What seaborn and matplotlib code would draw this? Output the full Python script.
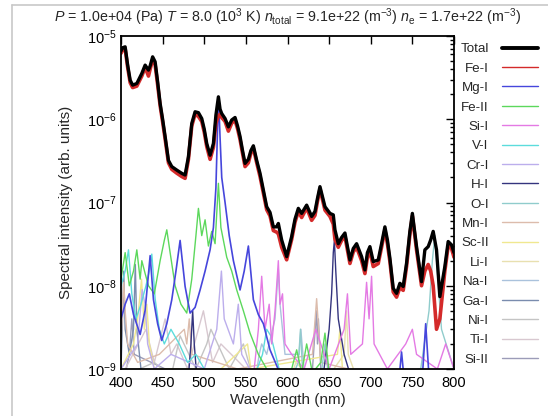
import matplotlib
matplotlib.use("Agg")
import matplotlib.pyplot as plt
from matplotlib.lines import Line2D
from matplotlib.ticker import LogLocator, NullFormatter
import seaborn as sns

# ---- total and per-species spectra (wavelength in nm, intensity in arb. units) ----
wl_total = [400, 402, 405, 408, 411, 414, 419, 425, 429, 433, 435, 438, 441, 444, 447,
            450, 453, 457, 461, 467, 473, 477, 481, 485, 489, 493, 497, 500, 503, 507,
            511, 514, 517, 519, 521, 525, 529, 533, 537, 540, 543, 546, 549, 553, 556,
            559, 563, 567, 571, 575, 579, 583, 587, 589, 593, 599, 605, 609, 613, 617,
            623, 629, 633, 636, 639, 645, 651, 655, 657, 661, 665, 669, 675, 679, 683,
            689, 693, 696, 699, 703, 709, 713, 717, 720, 723, 727, 731, 735, 739, 743,
            747, 750, 755, 761, 765, 769, 772, 775, 779, 783, 789, 793, 797, 800]
total = [6.6e-6, 7.24e-6, 7.41e-6, 4.47e-6, 2.95e-6, 2.57e-6, 2.69e-6, 3.55e-6, 4.47e-6, 3.89e-6,
         4.37e-6, 5.62e-6, 4.9e-6, 2.82e-6, 1.55e-6, 1.0e-6, 6.2e-7, 3.2e-7, 2.7e-7, 2.45e-7,
         2.24e-7, 2.14e-7, 3.55e-7, 8.9e-7, 1.23e-6, 1.2e-6, 1.02e-6, 7.6e-7, 5.1e-7, 3.7e-7,
         5.1e-7, 1.12e-6, 1.86e-6, 1.32e-6, 1.17e-6, 1.02e-6, 8.1e-7, 9.8e-7, 1.05e-6, 8.3e-7,
         6.2e-7, 4.2e-7, 2.95e-7, 3.3e-7, 4.2e-7, 4.8e-7, 3.2e-7, 2.24e-7, 1.41e-7, 8.9e-8,
         7.6e-8, 5.1e-8, 5.1e-8, 5.6e-8, 3.55e-8, 2.24e-8, 3.9e-8, 6.3e-8, 8.5e-8, 7.4e-8,
         9.3e-8, 6.8e-8, 7.8e-8, 1.12e-7, 1.55e-7, 8.9e-8, 7.4e-8, 7.1e-8, 4.7e-8, 3.2e-8,
         3.8e-8, 4.3e-8, 2.04e-8, 2.8e-8, 3.2e-8, 2.24e-8, 1.55e-8, 2.5e-8, 2.95e-8, 1.95e-8,
         2.04e-8, 3.2e-8, 5.1e-8, 3.55e-8, 2.14e-8, 9.3e-9, 8.1e-9, 1.07e-8, 9.8e-9, 1.86e-8,
         4.5e-8, 7.4e-8, 2.95e-8, 1.12e-8, 2.7e-8, 2.95e-8, 3.55e-8, 4.5e-8, 2.7e-8, 7.4e-9,
         1.7e-8, 3.4e-8, 3.1e-8, 2.5e-8]
fe1 = [6.2e-6, 6.8e-6, 7.0e-6, 4.2e-6, 2.75e-6, 2.4e-6, 2.5e-6, 3.3e-6, 4.2e-6, 3.3e-6,
       4.0e-6, 5.2e-6, 4.5e-6, 2.6e-6, 1.45e-6, 9.3e-7, 5.8e-7, 3.0e-7, 2.5e-7, 2.25e-7,
       2.05e-7, 1.95e-7, 3.3e-7, 8.3e-7, 1.15e-6, 1.08e-6, 9.4e-7, 7.0e-7, 4.7e-7, 3.3e-7,
       4.6e-7, 9.0e-7, 1.1e-6, 1.15e-6, 1.05e-6, 9.4e-7, 7.2e-7, 9.0e-7, 9.7e-7, 7.7e-7,
       5.7e-7, 3.9e-7, 2.7e-7, 3.0e-7, 3.9e-7, 4.5e-7, 3.0e-7, 2.05e-7, 1.3e-7, 8.2e-8,
       6.9e-8, 4.6e-8, 4.4e-8, 4.2e-8, 2.9e-8, 2.05e-8, 3.6e-8, 5.8e-8, 7.8e-8, 6.6e-8,
       8.6e-8, 6.1e-8, 7.0e-8, 1.03e-7, 1.45e-7, 8.1e-8, 6.8e-8, 5.5e-8, 3.6e-8, 2.9e-8,
       3.5e-8, 3.9e-8, 1.85e-8, 2.55e-8, 2.9e-8, 2.0e-8, 1.4e-8, 2.2e-8, 2.6e-8, 1.7e-8,
       1.85e-8, 2.9e-8, 4.7e-8, 3.2e-8, 1.95e-8, 8.4e-9, 7.3e-9, 9.5e-9, 8.8e-9, 1.7e-8,
       4.1e-8, 6.9e-8, 2.7e-8, 1.0e-8, 1.5e-8, 1.8e-8, 1.5e-8, 1.0e-8, 3.0e-9, 4.0e-9,
       1.5e-8, 3.0e-8, 2.8e-8, 2.2e-8]

wl_mg1 = [400, 405, 410, 415, 423, 429, 435, 439, 444, 449, 455, 461, 466, 471, 477, 483,
          489, 495, 501, 507, 511, 514, 516, 517, 518, 519, 521, 525, 530, 535, 543, 548,
          553, 559, 565, 571, 579, 587, 595, 700, 733, 737, 741, 762, 766, 770, 800]
mg1 = [4e-9, 6e-9, 8e-9, 4.5e-9, 2.6e-9, 5.1e-9, 2.3e-8, 6.8e-9, 3.5e-9, 2.2e-9, 3.5e-9,
       6.8e-9, 1.5e-8, 3.5e-8, 9.8e-9, 4.7e-9, 5.5e-9, 8.9e-9, 1.5e-8, 2.7e-8, 5e-8, 1.5e-7,
       8e-7, 1.5e-6, 1.1e-6, 6e-7, 2e-7, 1e-7, 4e-8, 2e-8, 8.9e-9, 1.5e-8, 3e-8, 6.8e-9,
       4.5e-9, 3.5e-9, 1.7e-9, 1.1e-9, 7e-10, 5e-10, 6e-10, 1.6e-9, 6e-10, 8e-10, 3.5e-9,
       8e-10, 5e-10]

wl_fe2 = [400, 405, 410, 415, 419, 423, 425, 429, 433, 440, 447, 452, 455, 459, 465, 472,
          479, 485, 490, 493, 497, 501, 505, 509, 513, 517, 520, 527, 533, 539, 547, 555,
          565, 575, 590, 605, 611, 617, 623, 630, 640, 645, 650, 680, 800]
fe2 = [1.2e-8, 2.5e-8, 1.0e-8, 1.5e-8, 2.7e-8, 1.2e-8, 2.0e-8, 1.4e-8, 1.0e-8, 8e-9, 2e-8,
       3.5e-8, 4.7e-8, 2.5e-8, 1.0e-8, 6e-9, 4.7e-9, 1.2e-8, 4e-8, 8.5e-8, 4e-8, 6.2e-8,
       3e-8, 4.5e-8, 3.2e-8, 1.7e-7, 5e-8, 2.2e-8, 1.5e-8, 8.9e-9, 5e-9, 2.7e-9, 1.5e-9,
       1e-9, 8e-10, 1e-9, 1.7e-9, 9e-10, 2.0e-9, 9e-10, 1.2e-9, 2.7e-9, 9e-10, 6e-10, 5e-10]

wl_si1 = [400, 550, 560, 565, 569, 573, 578, 581, 585, 589, 591, 594, 597, 605, 620, 634,
          650, 668, 672, 676, 690, 695, 698, 701, 704, 720, 742, 750, 755, 780, 790, 800]
si1 = [5e-10, 6e-10, 1e-9, 3e-9, 1.3e-8, 3e-9, 6e-9, 2e-9, 5e-9, 2e-8, 6e-9, 8e-9, 2e-9,
       1.5e-9, 1e-9, 3e-9, 1e-9, 3e-9, 8e-9, 1.5e-9, 2e-9, 1.1e-8, 4e-9, 1.3e-8, 2e-9, 1e-9,
       2e-9, 3e-9, 1.5e-9, 1e-9, 2e-9, 1e-9]

wl_v1 = [400, 405, 409, 413, 418, 424, 430, 434, 437, 441, 446, 452, 460, 470, 480, 490,
         500, 510, 560, 570, 575, 580, 590, 800]
v1 = [1e-8, 1.5e-8, 2.7e-8, 8e-9, 4e-9, 6e-9, 1e-8, 1.5e-8, 2.4e-8, 7e-9, 3e-9, 2e-9, 3e-9,
      2e-9, 1.2e-9, 1.5e-9, 1e-9, 8e-10, 8e-10, 1.5e-9, 3e-9, 2.5e-9, 1e-9, 5e-10]

wl_cr1 = [400, 420, 425.4, 427.5, 429, 432, 440, 460, 500, 515, 520.6, 524, 535, 540.9,
          545, 560, 800]
cr1 = [1e-9, 2e-9, 9e-9, 7e-9, 6e-9, 2e-9, 1e-9, 1.5e-9, 1e-9, 3e-9, 1.5e-8, 4e-9, 2e-9,
       6e-9, 1.5e-9, 8e-10, 5e-10]

wl_h1 = [400, 480, 484, 486.1, 488, 492, 640, 650, 653, 655, 656.3, 658, 661, 668, 680, 800]
h1 = [5e-10, 6e-10, 2e-9, 5e-9, 2e-9, 6e-10, 5e-10, 3e-9, 8e-9, 2.5e-8, 3.5e-8, 1.5e-8,
      4e-9, 1.5e-9, 6e-10, 5e-10]

wl_o1 = [400, 600, 613, 615.6, 618, 640, 645, 650, 760, 770, 774, 777, 780, 785, 800]
o1 = [5e-10, 6e-10, 1.2e-9, 3e-9, 1e-9, 8e-10, 2e-9, 7e-10, 1e-9, 5e-9, 2e-8, 4e-8, 1.5e-8,
      3e-9, 1e-9]

wl_mn1 = [400, 402, 403.3, 405, 408, 420, 446, 476, 479, 482, 485, 540, 630, 635, 640, 800]
mn1 = [2e-9, 6e-9, 1.1e-8, 5e-9, 2e-9, 1.2e-9, 1.5e-9, 3e-9, 2e-9, 4e-9, 1.5e-9, 1e-9,
       1.5e-9, 7e-9, 1.2e-9, 5e-10]

wl_sc2 = [400, 415, 420, 424.7, 428, 431, 434, 440, 520, 552, 556, 660, 663, 666, 800]
sc2 = [1e-9, 2e-9, 4e-9, 1.2e-8, 3e-9, 6e-9, 2e-9, 1e-9, 1e-9, 2e-9, 1e-9, 1.5e-9, 3e-9,
       1e-9, 5e-10]

wl_li1 = [400, 600, 610, 640, 668, 670.8, 673, 690, 800]
li1 = [5e-10, 6e-10, 1.2e-9, 6e-10, 1.5e-9, 5e-9, 1.5e-9, 5e-10, 5e-10]

wl_na1 = [400, 560, 566, 569, 575, 585, 589, 591, 597, 614, 616, 620, 800]
na1 = [5e-10, 6e-10, 1.5e-9, 2e-9, 1.5e-9, 4e-9, 1.6e-8, 6e-9, 1.5e-9, 1.5e-9, 3e-9, 1e-9,
       5e-10]

wl_ga1 = [400, 401.5, 403.3, 405, 410, 415, 417.2, 419, 425, 800]
ga1 = [1e-9, 3e-9, 1.5e-8, 3e-9, 1.5e-9, 3e-9, 1.8e-8, 3e-9, 8e-10, 5e-10]

wl_ni1 = [400, 440, 460, 471, 490, 503, 508, 530, 547, 560, 800]
ni1 = [8e-10, 1.2e-9, 8e-10, 2.5e-9, 1e-9, 2e-9, 3e-9, 1e-9, 2e-9, 7e-10, 5e-10]

wl_ti1 = [400, 430, 440, 453, 460, 467, 480, 499, 510, 520, 550, 800]
ti1 = [8e-10, 3e-9, 1.2e-9, 4e-9, 1.5e-9, 2e-9, 1e-9, 5e-9, 1.2e-9, 2e-9, 1e-9, 5e-10]

wl_si2 = [400, 410, 413, 416, 500, 630, 634.7, 636, 637.1, 640, 800]
si2 = [5e-10, 1.5e-9, 4e-9, 1.5e-9, 6e-10, 1e-9, 5e-9, 2e-9, 4e-9, 1e-9, 5e-10]

x_ticks = [400, 450, 500, 550, 600, 650, 700, 750, 800]
y_ticks = [1e-9, 1e-8, 1e-7, 1e-6, 1e-5]

species = ["Fe-I", "Mg-I", "Fe-II", "Si-I", "V-I", "Cr-I", "H-I", "O-I", "Mn-I", "Sc-II",
           "Li-I", "Na-I", "Ga-I", "Ni-I", "Ti-I", "Si-II"]
series = {
    "Fe-I": (wl_total, fe1), "Mg-I": (wl_mg1, mg1), "Fe-II": (wl_fe2, fe2),
    "Si-I": (wl_si1, si1), "V-I": (wl_v1, v1), "Cr-I": (wl_cr1, cr1), "H-I": (wl_h1, h1),
    "O-I": (wl_o1, o1), "Mn-I": (wl_mn1, mn1), "Sc-II": (wl_sc2, sc2), "Li-I": (wl_li1, li1),
    "Na-I": (wl_na1, na1), "Ga-I": (wl_ga1, ga1), "Ni-I": (wl_ni1, ni1),
    "Ti-I": (wl_ti1, ti1), "Si-II": (wl_si2, si2),
}
colors = {
    "Fe-I": "#d42a2a", "Mg-I": "#4646dc", "Fe-II": "#5cd85c", "Si-I": "#e47ae4",
    "V-I": "#5cdcdc", "Cr-I": "#bcaeec", "H-I": "#34347e", "O-I": "#90cccc",
    "Mn-I": "#dcbcac", "Sc-II": "#f0e890", "Li-I": "#e8e0b0", "Na-I": "#aac2dc",
    "Ga-I": "#7a8cae", "Ni-I": "#c4c4c4", "Ti-I": "#d8c8d0", "Si-II": "#9c9cb8",
}

sns.set_style("white")
plt.rcParams["font.family"] = ["Liberation Sans", "DejaVu Sans"]
plt.rcParams["mathtext.fontset"] = "custom"
plt.rcParams["mathtext.rm"] = "Liberation Sans"
plt.rcParams["mathtext.it"] = "Liberation Sans:italic"
plt.rcParams["mathtext.default"] = "regular"

fig = plt.figure(figsize=(5.48, 4.16), dpi=100)
ax = fig.add_axes([121 / 548, 1 - 369 / 416, 333 / 548, 333 / 416])

# minor species first, Fe-I underneath the total curve
for name in species[::-1]:
    if name in ("Fe-I", "Mg-I"):
        continue
    x, y = series[name]
    sns.lineplot(x=x, y=y, ax=ax, color=colors[name], lw=1.0, sort=False, estimator=None)
sns.lineplot(x=wl_mg1, y=mg1, ax=ax, color=colors["Mg-I"], lw=1.2, sort=False, estimator=None)
sns.lineplot(x=wl_total, y=fe1, ax=ax, color=colors["Fe-I"], lw=2.6, sort=False, estimator=None)
sns.lineplot(x=wl_total, y=total, ax=ax, color="black", lw=2.4, sort=False, estimator=None)

ax.set_yscale("log")
ax.set_xlim(400, 800)
ax.set_ylim(1e-9, 1e-5)
ax.set_xticks(x_ticks)
ax.set_yticks(y_ticks)
ax.yaxis.set_minor_locator(LogLocator(base=10, subs=range(2, 10), numticks=20))
ax.yaxis.set_minor_formatter(NullFormatter())
ax.tick_params(which="both", direction="in", top=True, right=True, width=1.0,
               labelsize=10.5, colors="black")
ax.tick_params(which="major", length=6)
ax.tick_params(axis="x", which="major", pad=5)
ax.tick_params(axis="y", which="major", pad=3)
ax.tick_params(which="minor", length=3)
ax.tick_params(axis="x", which="minor", bottom=False, top=False)
for sp in ax.spines.values():
    sp.set_color("black")
    sp.set_linewidth(1.3)

ax.set_xlabel("Wavelength (nm)", fontsize=11, labelpad=2)
ax.set_ylabel("Spectral intensity (arb. units)", fontsize=11, labelpad=10)
ax.set_title(r"$\it{P}$ = 1.0e+04 (Pa) $\it{T}$ = 8.0 (10$^{3}$ K) "
             r"$\it{n}_{\rm total}$ = 9.1e+22 (m$^{-3}$) $\it{n}_{\rm e}$ = 1.7e+22 (m$^{-3}$)",
             fontsize=10.3, pad=10)

handles = [Line2D([], [], color="black", lw=2.8)]
handles += [Line2D([], [], color=colors[n], lw=1.0) for n in species]
labels = ["Total"] + species
ax.legend(handles, labels, loc="upper right", bbox_to_anchor=(538 / 548, 1 - 43 / 416),
          bbox_transform=fig.transFigure, frameon=False, markerfirst=False,
          fontsize=9.6, handlelength=2.7, handletextpad=1.0, labelspacing=0.53,
          borderpad=0, borderaxespad=0)

# light frame around the canvas
fig.add_artist(Line2D([12 / 548, 12 / 548], [0, 1 - 5 / 416], transform=fig.transFigure,
                      color="#c8c8c8", lw=1.2))
fig.add_artist(Line2D([12 / 548, 1], [1 - 5 / 416, 1 - 5 / 416], transform=fig.transFigure,
                      color="#c8c8c8", lw=1.2))

fig.savefig("out.png", dpi=100)
